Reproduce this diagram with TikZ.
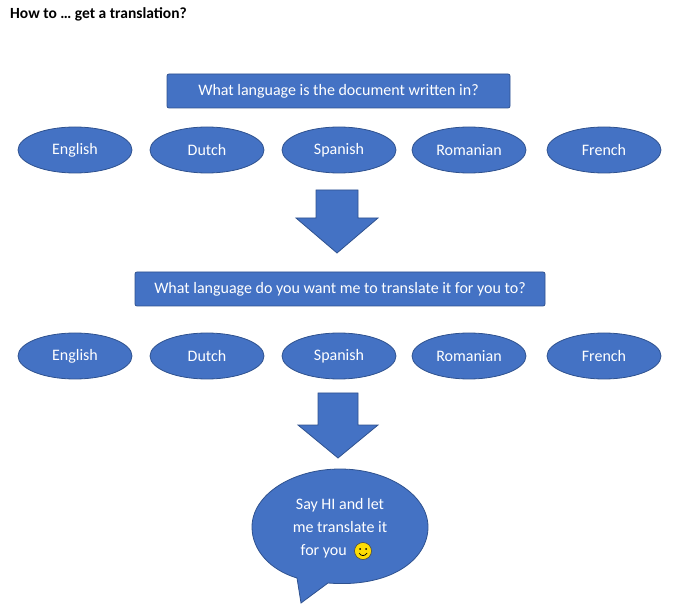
\documentclass[tikz,border=0pt]{standalone}
\usepackage{fontspec}
\setmainfont{Carlito}
\usetikzlibrary{shapes.geometric,calc}
\definecolor{fillb}{HTML}{4472C4}
\definecolor{edgeb}{HTML}{2F528F}
\begin{document}
\begin{tikzpicture}[x=1pt,y=-1pt,
 shp/.style={fill=fillb,draw=edgeb,line width=0.8pt},
 box/.style={shp,rectangle,rounded corners=2pt,text=white,font=\fontsize{16}{18}\selectfont,inner sep=0pt},
 lang/.style={shp,ellipse,minimum width=114,minimum height=46,inner sep=0pt,text=white,font=\fontsize{16}{18}\selectfont},
 btxt/.style={text=white,inner sep=0pt,font=\fontsize{16}{23}\selectfont}]
\useasboundingbox (0,0) rectangle (680,609);
\node[anchor=west,inner sep=0pt,font=\bfseries\fontsize{15.5}{17}\selectfont] (title) at (10,14) {How to … get a translation?};
\node[box,minimum width=343,minimum height=34] (q1) at (338.5,91) {What language is the document written in?};
\foreach \n/\x/\t in {a/75/English,b/207/Dutch,c/339/Spanish,d/469/Romanian,e/604/French}{
 \node[lang] (r1\n) at (\x,150) {\t};
 \node[lang] (r2\n) at (\x,356) {\t};
}
\draw[shp] (316,190) -- (358,190) -- (358,218) -- (378,218) -- (337,253) -- (296,218) -- (316,218) -- cycle;
\node[box,minimum width=410,minimum height=34] (q2) at (340,289) {What language do you want me to translate it for you to?};
\draw[shp] (318,393) -- (358,393) -- (358,425) -- (378,425) -- (338,458) -- (298,425) -- (318,425) -- cycle;
\draw[shp] (297,578) -- (301,603) -- (328,583) .. controls (390,588) and (428,560) .. (428,527)
  .. controls (428,495) and (388,469) .. (340,469) .. controls (292,469) and (252,495) .. (252,527)
  .. controls (252,550) and (270,570) .. (297,578) -- cycle;
\node[btxt,align=center] (say) at (340,516) {Say HI and let\\me translate it};
\node[btxt,anchor=east] (foryou) at (347,551) {for you};
\coordinate (em) at (363,551);
\fill[yellow!80!orange,draw=black!75,line width=0.5pt] (em) circle (8.5);
\fill[black] ($(em)+(-3,-2)$) circle (1) ($(em)+(3,-2)$) circle (1);
\draw[black,line width=0.7pt] ($(em)+(-4,2)$) .. controls ($(em)+(-1.5,5.5)$) and ($(em)+(1.5,5.5)$) .. ($(em)+(4,2)$);
\end{tikzpicture}
\end{document}
